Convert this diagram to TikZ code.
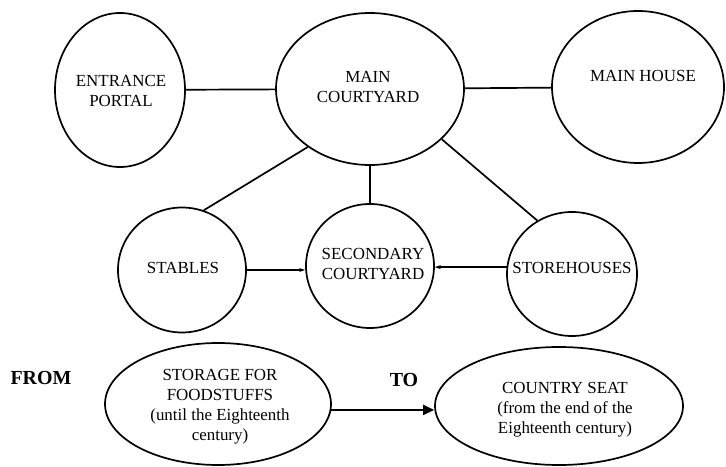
\documentclass[tikz,border=0pt]{standalone}
\usepackage{fontspec}
\setmainfont{Liberation Serif}
\usetikzlibrary{shapes.geometric,arrows.meta}
\tikzset{
  room/.style={draw, ellipse, line width=1.7bp, inner sep=0pt},
  lbl/.style={align=center, inner sep=0pt, font=\fontsize{17}{20}\selectfont},
  big/.style={inner sep=0pt, font=\fontsize{20}{24}\selectfont\bfseries},
  link/.style={line width=1.7bp},
  smallarr/.style={line width=1.7bp, -{Stealth[length=6bp,width=4bp]}},
  bigarr/.style={line width=1.7bp, -{Triangle[length=11bp,width=10bp]}}
}
\begin{document}
\begin{tikzpicture}[x=1bp,y=-1bp]
\useasboundingbox (0,0) rectangle (726,467);
% ellipses
\node[room, minimum width=130bp, minimum height=154bp] (ent) at (120,90) {};
\node[room, minimum width=188bp, minimum height=152bp] (mc) at (370,89) {};
\node[room, minimum width=172bp, minimum height=152bp] (mh) at (638,87) {};
\node[room, minimum width=128bp, minimum height=125bp] (st) at (182,270) {};
\node[room, minimum width=128bp, minimum height=124bp] (sc) at (370,266) {};
\node[room, minimum width=130bp, minimum height=124bp] (sh) at (572,274) {};
\node[room, minimum width=226bp, minimum height=122bp] (sf) at (218,404) {};
\node[room, minimum width=248bp, minimum height=118bp] (cs) at (559,406) {};
% texts
\node[lbl] (entT) at (121,91) {ENTRANCE\\PORTAL};
\node[lbl] (mcT) at (368,87) {MAIN\\COURTYARD};
\node[lbl] (mhT) at (643,76) {MAIN HOUSE};
\node[lbl] (stT) at (183,268) {STABLES};
\node[lbl] (scT) at (373,264) {SECONDARY\\COURTYARD};
\node[lbl] (shT) at (572,268) {STOREHOUSES};
\node[lbl] (sfT) at (220,407) {STORAGE FOR\\FOODSTUFFS\\(until the Eighteenth\\century)};
\node[lbl] (csT) at (565,410) {COUNTRY SEAT\\(from the end of the\\Eighteenth century)};
\node[big] (from) at (41,378) {FROM};
\node[big] (to) at (404,380) {TO};
% connectors
\draw[link] (ent) -- (mc);
\draw[link] (mc) -- (mh);
\draw[link] (mc.223) -- (st.70);
\draw[link] (mc.south) -- (sc.north);
\draw[link] (mc.325) -- (sh.123);
\draw[smallarr] (st.east) -- (st.east -| sc.west);
\draw[smallarr] (sh.174) -- (sh.174 -| sc.east);
\draw[bigarr] (sf.-3) -- (sf.-3 -| cs.west);
\end{tikzpicture}
\end{document}
